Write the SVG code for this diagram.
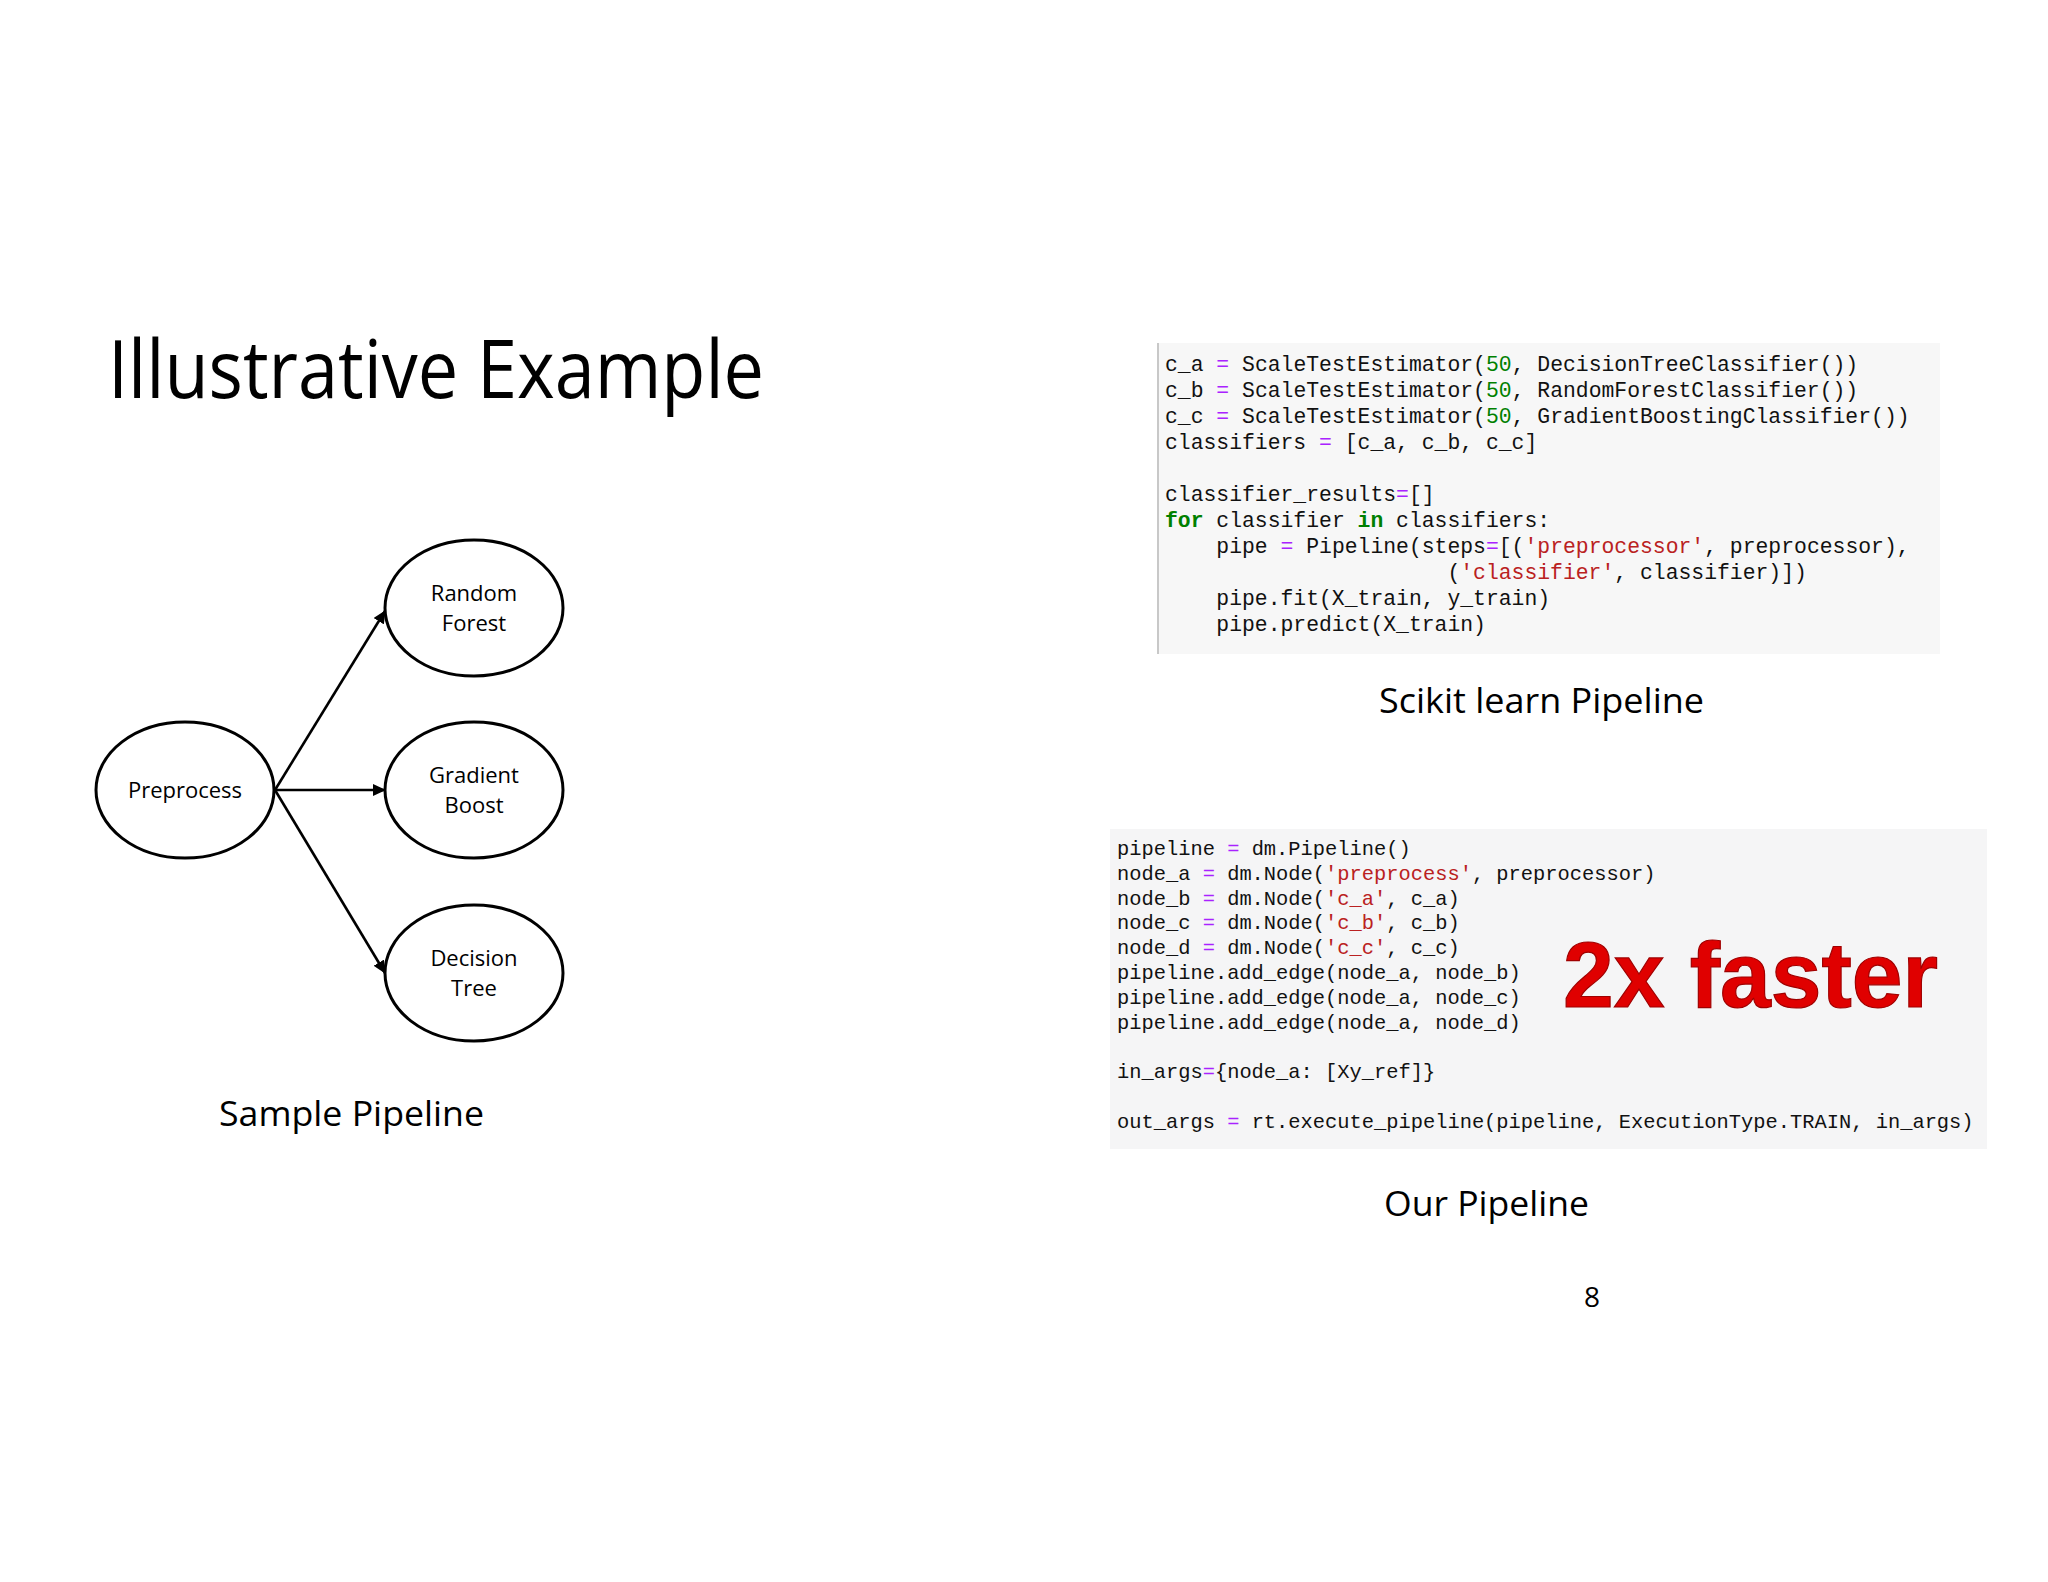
<svg xmlns="http://www.w3.org/2000/svg" width="2048" height="1582" viewBox="0 0 2048 1582">
<style>
.sans{font-family:"Open Sans","Noto Sans","Liberation Sans",sans-serif;fill:#000}
.node ellipse{fill:#fff;stroke:#000;stroke-width:3}
.lbl{font-family:"Open Sans","Noto Sans","Liberation Sans",sans-serif;font-size:22px;text-anchor:middle;fill:#000}
.code{font-family:"Liberation Mono","DejaVu Sans Mono",monospace;fill:#111}
.c1{font-size:21.4px}
.c2{font-size:20.4px}
.op{fill:#aa22ff}
.num{fill:#008000}
.str{fill:#ba2121}
.kw{fill:#008000;font-weight:bold}
.edge{stroke:#000;stroke-width:2.6;fill:none}
</style>
<defs>
<marker id="arr" markerUnits="userSpaceOnUse" markerWidth="14" markerHeight="12" refX="12" refY="6" orient="auto">
<path d="M0,0 L13,6 L0,12 z" fill="#000"/>
</marker>
</defs>
<rect width="2048" height="1582" fill="#fff"/>

<text id="title" class="sans" x="108" y="398" font-size="80" textLength="656" lengthAdjust="spacingAndGlyphs">Illustrative Example</text>

<g id="connectors">
<line class="edge" x1="275" y1="790" x2="385" y2="611" marker-end="url(#arr)"/>
<line class="edge" x1="275" y1="790" x2="385" y2="790" marker-end="url(#arr)"/>
<line class="edge" x1="275" y1="790" x2="385" y2="973" marker-end="url(#arr)"/>
</g>

<g id="node-preprocess" class="node">
<ellipse cx="185" cy="790" rx="89" ry="68"/>
<text class="lbl" x="185" y="798">Preprocess</text>
</g>
<g id="node-random-forest" class="node">
<ellipse cx="474" cy="608" rx="89" ry="68"/>
<text class="lbl" x="474" y="601">Random</text>
<text class="lbl" x="474" y="631">Forest</text>
</g>
<g id="node-gradient-boost" class="node">
<ellipse cx="474" cy="790" rx="89" ry="68"/>
<text class="lbl" x="474" y="783">Gradient</text>
<text class="lbl" x="474" y="813">Boost</text>
</g>
<g id="node-decision-tree" class="node">
<ellipse cx="474" cy="973" rx="89" ry="68"/>
<text class="lbl" x="474" y="966">Decision</text>
<text class="lbl" x="474" y="996">Tree</text>
</g>

<text id="sample-label" class="sans" x="219" y="1126" font-size="35" textLength="265" lengthAdjust="spacingAndGlyphs">Sample Pipeline</text>

<g id="code-sklearn">
<rect x="1157" y="343" width="783" height="311" fill="#f7f7f7"/>
<line x1="1158" y1="343" x2="1158" y2="654" stroke="#c8c8c8" stroke-width="2"/>
<text class="code c1" x="1165" y="371" xml:space="preserve">c_a <tspan class="op">=</tspan> ScaleTestEstimator(<tspan class="num">50</tspan>, DecisionTreeClassifier())</text>
<text class="code c1" x="1165" y="397" xml:space="preserve">c_b <tspan class="op">=</tspan> ScaleTestEstimator(<tspan class="num">50</tspan>, RandomForestClassifier())</text>
<text class="code c1" x="1165" y="423" xml:space="preserve">c_c <tspan class="op">=</tspan> ScaleTestEstimator(<tspan class="num">50</tspan>, GradientBoostingClassifier())</text>
<text class="code c1" x="1165" y="449" xml:space="preserve">classifiers <tspan class="op">=</tspan> [c_a, c_b, c_c]</text>
<text class="code c1" x="1165" y="501" xml:space="preserve">classifier_results<tspan class="op">=</tspan>[]</text>
<text class="code c1" x="1165" y="527" xml:space="preserve"><tspan class="kw">for</tspan> classifier <tspan class="kw">in</tspan> classifiers:</text>
<text class="code c1" x="1165" y="553" xml:space="preserve">    pipe <tspan class="op">=</tspan> Pipeline(steps<tspan class="op">=</tspan>[(<tspan class="str">'preprocessor'</tspan>, preprocessor),</text>
<text class="code c1" x="1165" y="579" xml:space="preserve">                      (<tspan class="str">'classifier'</tspan>, classifier)])</text>
<text class="code c1" x="1165" y="605" xml:space="preserve">    pipe.fit(X_train, y_train)</text>
<text class="code c1" x="1165" y="631" xml:space="preserve">    pipe.predict(X_train)</text>
</g>

<text id="sklearn-label" class="sans" x="1379" y="713" font-size="35" textLength="325" lengthAdjust="spacingAndGlyphs">Scikit learn Pipeline</text>

<g id="code-ours">
<rect x="1110" y="829" width="877" height="320" fill="#f5f5f6"/>
<text class="code c2" x="1117" y="855" xml:space="preserve">pipeline <tspan class="op">=</tspan> dm.Pipeline()</text>
<text class="code c2" x="1117" y="880" xml:space="preserve">node_a <tspan class="op">=</tspan> dm.Node(<tspan class="str">'preprocess'</tspan>, preprocessor)</text>
<text class="code c2" x="1117" y="905" xml:space="preserve">node_b <tspan class="op">=</tspan> dm.Node(<tspan class="str">'c_a'</tspan>, c_a)</text>
<text class="code c2" x="1117" y="929" xml:space="preserve">node_c <tspan class="op">=</tspan> dm.Node(<tspan class="str">'c_b'</tspan>, c_b)</text>
<text class="code c2" x="1117" y="954" xml:space="preserve">node_d <tspan class="op">=</tspan> dm.Node(<tspan class="str">'c_c'</tspan>, c_c)</text>
<text class="code c2" x="1117" y="979" xml:space="preserve">pipeline.add_edge(node_a, node_b)</text>
<text class="code c2" x="1117" y="1004" xml:space="preserve">pipeline.add_edge(node_a, node_c)</text>
<text class="code c2" x="1117" y="1029" xml:space="preserve">pipeline.add_edge(node_a, node_d)</text>
<text class="code c2" x="1117" y="1078" xml:space="preserve">in_args<tspan class="op">=</tspan>{node_a: [Xy_ref]}</text>
<text class="code c2" x="1117" y="1128" xml:space="preserve">out_args <tspan class="op">=</tspan> rt.execute_pipeline(pipeline, ExecutionType.TRAIN, in_args)</text>
<text id="faster" x="1563" y="1007" font-family="'Liberation Sans',Arial,sans-serif" font-weight="bold" font-size="92" fill="#e00000" stroke="#a00000" stroke-width="1.2" textLength="375" lengthAdjust="spacingAndGlyphs">2x faster</text>
</g>

<text id="our-label" class="sans" x="1384" y="1216" font-size="35" textLength="205" lengthAdjust="spacingAndGlyphs">Our Pipeline</text>
<text id="page-num" class="sans" x="1592" y="1307" font-size="28" text-anchor="middle">8</text>
</svg>
